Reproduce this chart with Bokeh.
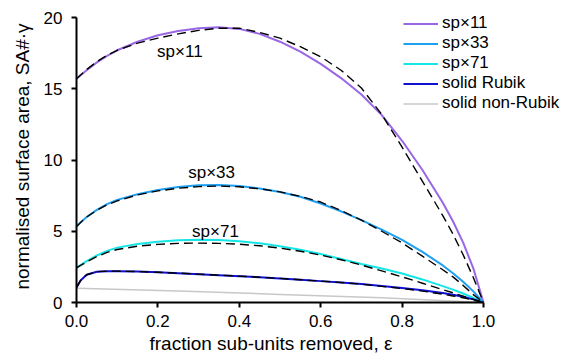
from bokeh.plotting import figure
from bokeh.models import Range1d, FixedTicker, Legend, LegendItem, Title, CustomJSTickFormatter
from bokeh.embed import file_html
from bokeh.resources import INLINE
from bokeh.core.properties import value

# fraction of sub-units removed
eps = [0.0, 0.01, 0.025, 0.05, 0.075, 0.1, 0.15, 0.2, 0.25, 0.3, 0.35, 0.4, 0.45,
       0.5, 0.55, 0.6, 0.65, 0.7, 0.75, 0.8, 0.85, 0.9, 0.925, 0.95, 0.975, 1.0]

sp11 = [15.7, 15.95, 16.3, 16.85, 17.3, 17.7, 18.3, 18.75, 19.05, 19.25, 19.32, 19.2, 18.85,
        18.3, 17.6, 16.75, 15.75, 14.6, 13.15, 11.35, 9.3, 7.0, 5.7, 4.2, 2.4, 0.0]
sp11_fit = [15.7, 15.97, 16.35, 16.9, 17.35, 17.7, 18.2, 18.55, 18.85, 19.1, 19.25, 19.25, 18.95,
            18.55, 17.95, 17.25, 16.3, 15.05, 13.2, 10.9, 8.5, 6.1, 4.8, 3.35, 1.75, 0.0]

sp33 = [5.33, 5.62, 6.0, 6.5, 6.9, 7.2, 7.6, 7.9, 8.1, 8.22, 8.25, 8.17, 8.0,
        7.75, 7.42, 6.95, 6.4, 5.78, 5.12, 4.4, 3.55, 2.6, 2.05, 1.45, 0.78, 0.0]
sp33_fit = [5.33, 5.62, 6.0, 6.48, 6.85, 7.13, 7.55, 7.83, 8.02, 8.13, 8.17, 8.12, 7.98,
            7.76, 7.45, 7.05, 6.45, 5.78, 5.0, 4.18, 3.25, 2.3, 1.8, 1.2, 0.55, 0.0]

sp71 = [2.43, 2.62, 2.9, 3.3, 3.62, 3.85, 4.1, 4.27, 4.36, 4.4, 4.38, 4.3, 4.15,
        3.95, 3.7, 3.4, 3.05, 2.7, 2.38, 2.03, 1.62, 1.15, 0.9, 0.63, 0.32, 0.0]
sp71_fit = [2.43, 2.6, 2.85, 3.22, 3.52, 3.72, 3.95, 4.08, 4.15, 4.17, 4.15, 4.09, 3.98,
            3.82, 3.6, 3.33, 3.0, 2.63, 2.22, 1.8, 1.35, 0.9, 0.68, 0.45, 0.22, 0.0]

rubik = [1.05, 1.55, 1.95, 2.16, 2.2, 2.2, 2.17, 2.12, 2.06, 1.99, 1.92, 1.85, 1.77,
         1.69, 1.6, 1.5, 1.4, 1.29, 1.16, 1.02, 0.86, 0.66, 0.54, 0.4, 0.22, 0.0]
rubik_fit = [1.05, 1.55, 1.95, 2.16, 2.2, 2.2, 2.17, 2.12, 2.06, 1.99, 1.92, 1.85, 1.77,
             1.69, 1.6, 1.5, 1.4, 1.29, 1.13, 0.98, 0.8, 0.58, 0.46, 0.33, 0.17, 0.0]

non_rubik_eps = [0.0, 0.25, 0.5, 0.75, 1.0]
non_rubik = [1.0, 0.8, 0.57, 0.33, 0.0]

series_names = ["sp\u00d711", "sp\u00d733", "sp\u00d771", "solid Rubik", "solid non-Rubik"]
series_colors = ["#9966E6", "#1EA0F0", "#14E6E6", "#1010D0", "#C8C8C8"]

x_ticks = [0.0, 0.2, 0.4, 0.6, 0.8, 1.0]
y_ticks = [0, 5, 10, 15, 20]

# in-plot annotations (text, x, y)
ann_text = ["sp\u00d711", "sp\u00d733", "sp\u00d771"]
ann_x = [0.254, 0.332, 0.3415]
ann_y = [17.58, 9.09, 4.95]

x_title = "fraction sub-units removed, \u03b5"
y_title = "normalised surface area, SA#\u00b7\u03b3"

FONT = "Liberation Sans"

p = figure(width=568, height=360, output_backend="svg", toolbar_location=None,
           x_range=Range1d(0, 492 / 407), y_range=Range1d(0, 20 * 292 / 285),
           min_border_left=76, min_border_right=0, min_border_top=10, min_border_bottom=58)
p.outline_line_color = None
p.grid.visible = False
p.background_fill_color = "white"
p.border_fill_color = "white"

solid_data = [sp11, sp33, sp71, rubik]
fit_data = [sp11_fit, sp33_fit, sp71_fit, rubik_fit]
renderers = []
for ys, c in zip(solid_data, series_colors[:4]):
    r = p.line(eps, ys, line_color=c, line_width=2)
    renderers.append(r)
r = p.line(non_rubik_eps, non_rubik, line_color=series_colors[4], line_width=1.5)
renderers.append(r)
for ys in fit_data:
    p.line(eps, ys, line_color="black", line_width=1.4, line_dash="9 5")

p.text(x=ann_x, y=ann_y, text=ann_text, text_font=value(FONT), text_font_size="17px",
       text_align="center", text_baseline="middle", text_color="black")

for ax in (p.xaxis[0], p.yaxis[0]):
    ax.axis_line_color = "black"
    ax.axis_line_width = 2
    ax.major_tick_line_color = "black"
    ax.major_tick_line_width = 2
    ax.major_tick_out = 5
    ax.major_tick_in = 0
    ax.minor_tick_line_color = None
    ax.major_label_text_font = FONT
    ax.major_label_text_font_size = "17px"
    ax.major_label_text_color = "black"
    ax.axis_label_text_font = FONT
    ax.axis_label_text_font_size = "19px"
    ax.axis_label_text_font_style = "normal"
    ax.axis_label_text_color = "black"

p.xaxis.bounds = (0, 1)
p.yaxis.bounds = (0, 20)
p.xaxis.ticker = FixedTicker(ticks=x_ticks)
p.yaxis.ticker = FixedTicker(ticks=y_ticks)
p.xaxis.formatter = CustomJSTickFormatter(code="return tick.toFixed(1);")
p.xaxis.major_label_standoff = 7
p.yaxis.major_label_standoff = 9
p.yaxis.axis_label = y_title
p.yaxis.axis_label_standoff = 8

# x-axis title centred under the 0..1 axis (not under the wider frame)
p.add_layout(Title(text=x_title, align="left", offset=73, standoff=3,
                   text_font=FONT, text_font_size="19px", text_font_style="normal",
                   text_color="black"), "below")

legend = Legend(items=[LegendItem(label=n, renderers=[rr]) for n, rr in zip(series_names, renderers)],
                location=(327, 189), orientation="vertical",
                label_text_font=FONT, label_text_font_size="17px", label_text_color="black",
                glyph_width=35, glyph_height=19, label_height=19, label_standoff=4,
                spacing=0, padding=0, margin=0, border_line_color=None,
                background_fill_alpha=0)
p.add_layout(legend, "center")

open("out.html", "w").write(file_html(p, INLINE))
